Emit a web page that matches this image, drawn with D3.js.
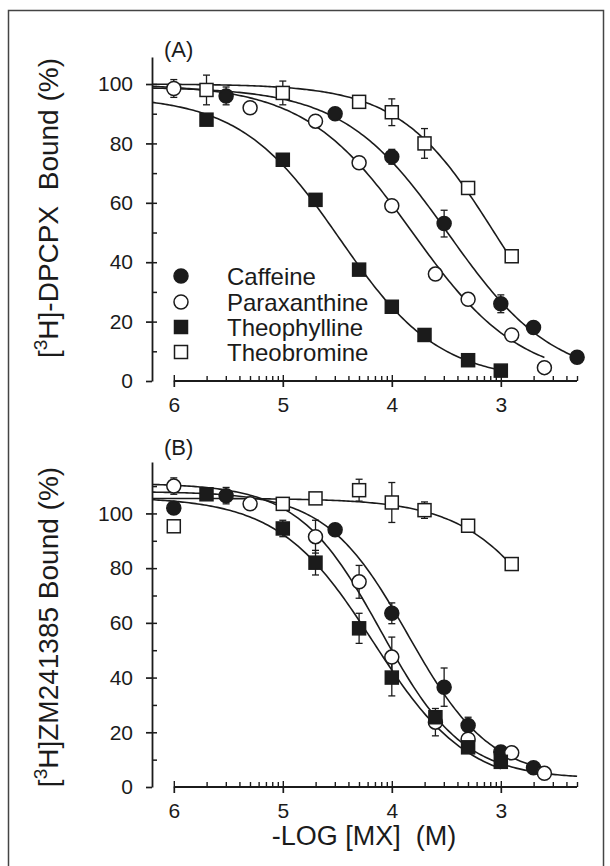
<!DOCTYPE html>
<html>
<head>
<meta charset="utf-8">
<script src="https://cdn.jsdelivr.net/npm/d3@7"></script>
<style>
  body { margin: 0; background: #fff; }
  svg { display: block; font-family: "Liberation Sans", Arial, sans-serif; }
</style>
</head>
<body>
<script>
// Compounds, in the order used by every array below
var compounds = ["Caffeine", "Paraxanthine", "Theophylline", "Theobromine"];
var xTickValues = [1e-6, 1e-5, 1e-4, 1e-3];
var xTickLabels = ["6", "5", "4", "3"];
var yTickValues = [0, 20, 40, 60, 80, 100];

// Points: [-log M, % bound, error bar]
// (A) [3H]-DPCPX
var aCaffeine = [[5.52, 96, 3], [4.52, 90, 0], [4.0, 75.5, 2.5], [3.52, 53, 4.5], [3.0, 26, 3], [2.7, 18, 0], [2.3, 8, 0]];
var aParaxanthine = [[6.0, 98.5, 3], [5.3, 92, 0], [4.7, 87.5, 0], [4.3, 73.5, 0], [4.0, 59, 0], [3.6, 36, 0], [3.3, 27.5, 0], [2.9, 15.5, 0], [2.6, 4.5, 0]];
var aTheophylline = [[5.7, 88, 0], [5.0, 74.5, 0], [4.7, 61, 0], [4.3, 37.5, 0], [4.0, 25, 0], [3.7, 15.5, 0], [3.3, 7, 0], [3.0, 3.5, 0]];
var aTheobromine = [[5.7, 98, 5], [5.0, 97, 4], [4.3, 94, 1.5], [4.0, 90.5, 4.5], [3.7, 80, 5], [3.3, 65, 1.5], [2.9, 42, 0]];

// (B) [3H]ZM241385
var bCaffeine = [[6.0, 102, 0], [5.52, 106.5, 3], [4.52, 94, 0], [4.0, 63.5, 3.8], [3.52, 36.5, 7], [3.3, 22.5, 3], [3.0, 12.8, 0], [2.7, 7, 0]];
var bParaxanthine = [[6.0, 110, 3], [5.3, 103.5, 2], [4.7, 91.5, 6], [4.3, 75, 6], [4.0, 47.5, 7.3], [3.6, 23.7, 5], [3.3, 17.5, 0], [2.9, 12.5, 0], [2.6, 5, 0]];
var bTheophylline = [[5.7, 107, 0], [5.0, 94.5, 3], [4.7, 82, 4.5], [4.3, 58, 5.5], [4.0, 40, 6.7], [3.6, 25.5, 0], [3.3, 14.5, 0], [3.0, 9.2, 0]];
var bTheobromine = [[6.0, 95.3, 0], [5.0, 103.5, 0], [4.7, 105.5, 0], [4.3, 108.5, 4], [4.0, 104, 7.3], [3.7, 101.2, 3], [3.3, 95.5, 0], [2.9, 81.5, 0]];

// Fitted one-site curves (same compound order)
var aFitTop = [99, 100, 96, 100];
var aFitBottom = [0, 0, 0, 0];
var aFitPIC50 = [3.48, 3.81, 4.48, 3.06];
var aFitHill = [0.9, 0.88, 0.95, 1.0];
var aFitEnd = [2.3, 2.6, 3.0, 2.9];

var bFitTop = [108, 111, 106, 105.5];
var bFitBottom = [3, 3, 0, 0];
var bFitPIC50 = [3.85, 4.1, 4.17, 2.38];
var bFitHill = [1.15, 1.15, 1.0, 1.0];
var bFitEnd = [2.7, 2.3, 3.0, 2.9];

var width = 610, height = 866;
var ink = "#1b1b1b";

var svg = d3.select("body").append("svg")
    .attr("width", width)
    .attr("height", height);

// Outer frame
svg.append("rect")
    .attr("x", 8.5).attr("y", 10.5)
    .attr("width", 595).attr("height", 880)
    .attr("fill", "none")
    .attr("stroke", "#444")
    .attr("stroke-width", 1.5);

// Shared x scale (concentration, log), the axis reads -log
var x = d3.scaleLog()
    .domain([Math.pow(10, -6.2), 5e-3])
    .range([152, 577]);

var panels = [
    {
        label: "(A)", labelY: 57,
        series: [aCaffeine, aParaxanthine, aTheophylline, aTheobromine],
        top: aFitTop, bottom: aFitBottom, pic50: aFitPIC50, hill: aFitHill, end: aFitEnd,
        yMax: 109.1, y0: 381, yTop: 57,
        title: ["[", "3", "H]-DPCPX  Bound (%)"], titleY: 208,
        legend: true
    },
    {
        label: "(B)", labelY: 455,
        series: [bCaffeine, bParaxanthine, bTheophylline, bTheobromine],
        top: bFitTop, bottom: bFitBottom, pic50: bFitPIC50, hill: bFitHill, end: bFitEnd,
        yMax: 118.8, y0: 787, yTop: 462,
        title: ["[", "3", "H]ZM241385 Bound (%)"], titleY: 627,
        legend: false
    }
];

panels.forEach(drawPanel);

// x axis title (bottom panel only)
svg.append("text")
    .attr("x", 364)
    .attr("y", 845)
    .attr("text-anchor", "middle")
    .attr("font-size", "27px")
    .attr("fill", ink)
    .style("white-space", "pre")
    .text("-LOG [MX]  (M)");

function drawPanel(p) {
    var y = d3.scaleLinear()
        .domain([0, p.yMax])
        .range([p.y0, p.yTop]);

    var g = svg.append("g");

    // y axis: labelled major ticks crossing the line, minor ticks inside
    var yAxis = g.append("g")
        .attr("transform", "translate(" + x.range()[0] + ",0)")
        .call(d3.axisLeft(y).tickValues(yTickValues).tickSize(6).tickSizeOuter(0).tickPadding(13));
    yAxis.selectAll("text").attr("font-size", "21px").attr("fill", ink).attr("font-family", null);
    yAxis.select(".domain").attr("stroke", ink).attr("stroke-width", 1.8);
    yAxis.selectAll(".tick line").attr("stroke", ink).attr("stroke-width", 1.7);

    var yIn = g.append("g")
        .attr("transform", "translate(" + x.range()[0] + ",0)")
        .call(d3.axisRight(y).tickValues(d3.range(10, p.yMax, 10)).tickSize(5).tickFormat(""));
    yIn.select(".domain").remove();
    yIn.selectAll(".tick line").attr("stroke", ink).attr("stroke-width", 1.5);

    // x axis: line from 10^-6 to the end, major ticks cross, minor ticks point up
    var xStart = xTickValues[0], xEnd = x.domain()[1];
    g.append("line")
        .attr("x1", x(xStart)).attr("x2", x(xEnd))
        .attr("y1", y(0)).attr("y2", y(0))
        .attr("stroke", ink).attr("stroke-width", 1.8);

    var xAxis = g.append("g")
        .attr("transform", "translate(0," + y(0) + ")")
        .call(d3.axisBottom(x).tickValues(xTickValues).tickSize(6).tickPadding(10)
            .tickFormat(function (d, i) { return xTickLabels[i]; }));
    xAxis.select(".domain").remove();
    xAxis.selectAll("text").attr("font-size", "21px").attr("fill", ink).attr("font-family", null);
    xAxis.selectAll(".tick line").attr("stroke", ink).attr("stroke-width", 1.7);

    var minor = x.ticks().filter(function (d) { return d >= xStart * 0.999; });
    var xTop = g.append("g")
        .attr("transform", "translate(0," + y(0) + ")")
        .call(d3.axisTop(x).tickValues(minor).tickFormat("")
            .tickSize(5));
    xTop.select(".domain").remove();
    xTop.selectAll(".tick line")
        .attr("stroke", ink)
        .attr("stroke-width", 1.4)
        .attr("y2", function (d) { return xTickValues.indexOf(d) >= 0 ? -6 : -5; });

    // fitted curves
    var line = d3.line()
        .x(function (d) { return x(Math.pow(10, -d[0])); })
        .y(function (d) { return y(d[1]); });

    compounds.forEach(function (c, i) {
        var pts = [];
        var start = -Math.log10(x.domain()[0]);
        for (var v = start; v > p.end[i]; v -= 0.02) {
            pts.push([v, fit(p, i, v)]);
        }
        pts.push([p.end[i], fit(p, i, p.end[i])]);
        g.append("path")
            .datum(pts)
            .attr("fill", "none")
            .attr("stroke", ink)
            .attr("stroke-width", 1.6)
            .attr("d", line);
    });

    // error bars, then markers
    compounds.forEach(function (c, i) {
        var bars = p.series[i].filter(function (d) { return d[2] > 0; });
        var eb = g.append("g").attr("stroke", ink).attr("stroke-width", 1.3);
        eb.selectAll("line.v").data(bars).enter().append("line")
            .attr("x1", function (d) { return x(Math.pow(10, -d[0])); })
            .attr("x2", function (d) { return x(Math.pow(10, -d[0])); })
            .attr("y1", function (d) { return y(d[1] - d[2]); })
            .attr("y2", function (d) { return y(d[1] + d[2]); });
        [-1, 1].forEach(function (s) {
            eb.selectAll("line.c" + s).data(bars).enter().append("line")
                .attr("x1", function (d) { return x(Math.pow(10, -d[0])) - 3.5; })
                .attr("x2", function (d) { return x(Math.pow(10, -d[0])) + 3.5; })
                .attr("y1", function (d) { return y(d[1] + s * d[2]); })
                .attr("y2", function (d) { return y(d[1] + s * d[2]); });
        });
    });

    compounds.forEach(function (c, i) {
        drawMarkers(g, i, p.series[i].map(function (d) {
            return [x(Math.pow(10, -d[0])), y(d[1])];
        }));
    });

    // panel label
    g.append("text")
        .attr("x", 164)
        .attr("y", p.labelY)
        .attr("font-size", "22px")
        .attr("fill", ink)
        .text(p.label);

    // y axis title with superscript
    var t = g.append("text")
        .attr("transform", "translate(58," + p.titleY + ") rotate(-90)")
        .attr("text-anchor", "middle")
        .attr("font-size", "28px")
        .attr("fill", ink)
        .style("white-space", "pre");
    t.append("tspan").text(p.title[0]);
    t.append("tspan").attr("font-size", "19px").attr("dy", "-11").text(p.title[1]);
    t.append("tspan").attr("dy", "11").text(p.title[2]);

    if (p.legend) drawLegend(g);
}

function fit(p, i, v) {
    return p.bottom[i] + (p.top[i] - p.bottom[i]) / (1 + Math.pow(10, (p.pic50[i] - v) * p.hill[i]));
}

// 0 filled circle, 1 open circle, 2 filled square, 3 open square
function drawMarkers(g, kind, xy) {
    var fill = kind % 2 === 0 ? ink : "#fff";
    if (kind < 2) {
        g.selectAll(null).data(xy).enter().append("circle")
            .attr("cx", function (d) { return d[0]; })
            .attr("cy", function (d) { return d[1]; })
            .attr("r", 7)
            .attr("fill", fill)
            .attr("stroke", ink)
            .attr("stroke-width", 1.5);
    } else {
        g.selectAll(null).data(xy).enter().append("rect")
            .attr("x", function (d) { return d[0] - 6.5; })
            .attr("y", function (d) { return d[1] - 6.5; })
            .attr("width", 13)
            .attr("height", 13)
            .attr("fill", fill)
            .attr("stroke", ink)
            .attr("stroke-width", 1.5);
    }
}

function drawLegend(g) {
    var rowY = [276, 302, 327, 352];
    compounds.forEach(function (c, i) {
        drawMarkers(g, i, [[181, rowY[i]]]);
        g.append("text")
            .attr("x", 227)
            .attr("y", rowY[i] + 8.5)
            .attr("font-size", "24px")
            .attr("fill", ink)
            .text(c);
    });
}
</script>
</body>
</html>
